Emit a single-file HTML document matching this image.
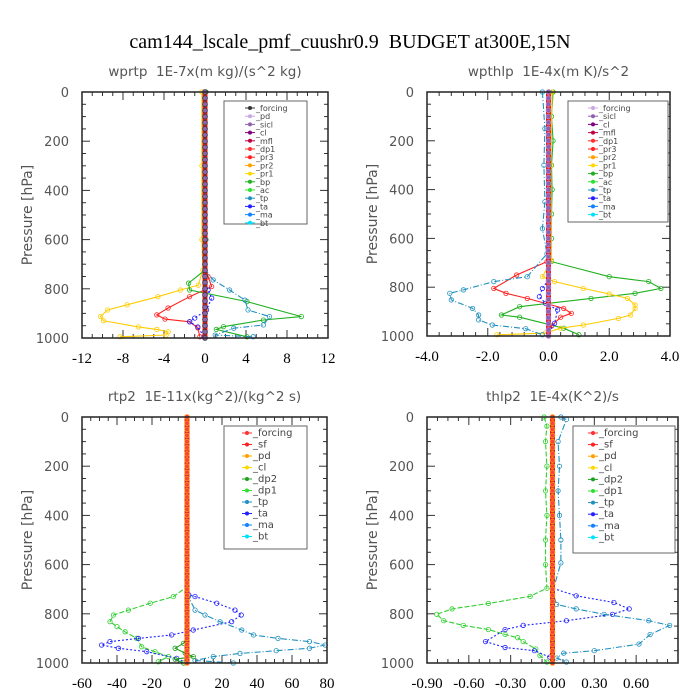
<!DOCTYPE html>
<html><head><meta charset="utf-8"><style>
body{margin:0;background:#fff}
svg{display:block}
text{white-space:pre}
</style></head><body>
<svg id="c" width="700" height="700" xmlns="http://www.w3.org/2000/svg">
<rect width="700" height="700" fill="#fff"/>
<text x="350" y="48" text-anchor="middle" font-family="Liberation Serif, serif" font-size="20">cam144_lscale_pmf_cuushr0.9  BUDGET at300E,15N</text>
</svg>
<script>
// ---- data arrays ----
const levels = [0,25,50,75,100,125,150,175,200,225,250,275,300,325,350,375,400,425,450,475,500,525,550,575,600,625,650,675,700,725,750,775,800,825,850,875,900,925,950,975,1000];
const p1Ticks = [-12,-8,-4,0,4,8,12];
const p1TickLabels = ["-12","-8","-4","0","4","8","12"];
const p2Ticks = [-4,-2,0,2,4];
const p2TickLabels = ["-4.0","-2.0","0.0","2.0","4.0"];
const p3Ticks = [-60,-40,-20,0,20,40,60,80];
const p3TickLabels = ["-60","-40","-20","0","20","40","60","80"];
const p4Ticks = [-0.9,-0.6,-0.3,0,0.3,0.6];
const p4TickLabels = ["-0.90","-0.60","-0.30","0.00","0.30","0.60"];
const pTicks = [0,200,400,600,800,1000];

// panel 1 (wprtp)
const p1_pr1_p=[0,300,600,724,785,805,832,865,886,913,930,955,965,975,988,995];
const p1_pr1_v=[-0.3,-0.3,-0.3,-0.2,-0.65,-2.4,-4.6,-7.6,-9.5,-10.2,-9.9,-6.5,-4.7,-3.6,-3.8,-8.3];
const p1_pr3_p=[0,700,751,791,832,878,906,923,934,959,995];
const p1_pr3_v=[0,0,0.3,0.65,-1.5,-3.6,-4.7,-3.9,-1.5,-0.7,-0.5];
const p1_bp_p=[0,600,724,777,805,852,913,927,954,965,995];
const p1_bp_v=[0.1,0.1,0,-1.6,-1.5,4.1,9.4,5.7,1.8,1.1,4.1];
const p1_tp_p=[0,720,764,805,846,886,913,947,960,988,995];
const p1_tp_v=[0,0,0.8,2.4,3.9,4.2,6.3,5.7,2.8,1.0,4.7];
const p1_ta_p=[0,780,805,838,886,919,934,955,995];
const p1_ta_v=[0,0,0.3,0.65,0.15,-1.0,-1.5,-0.7,-0.1];

// panel 2 (wpthlp)
const p2_bp_p=[0,100,200,300,400,500,600,695,757,777,805,825,846,880,914,923,968,995];
const p2_bp_v=[0.15,0.1,0.15,0.1,0.12,0.1,0.1,0.1,2.0,3.3,3.7,2.85,1.4,-0.95,-1.55,-0.95,0.5,1.0];
const p2_pr1_p=[0,300,690,757,777,805,828,846,873,887,914,928,955,968,988,995];
const p2_pr1_v=[0.12,0.08,0.1,-0.2,0.2,1.15,2.0,2.6,2.85,2.85,2.7,2.3,1.15,0.4,-0.1,-1.7];
const p2_dp1_p=[0,650,695,750,805,825,846,887,907,923,959,995];
const p2_dp1_v=[0,0,-0.05,-1.05,-1.8,-1.4,-0.7,0.5,0.75,0.4,0.1,0];
const p2_tp_p=[0,150,300,450,560,663,757,777,811,825,852,887,914,934,955,970,995];
const p2_tp_v=[-0.2,-0.12,-0.15,-0.12,-0.2,-0.05,-0.7,-1.8,-2.8,-3.25,-3.2,-2.5,-2.3,-2.3,-1.85,-0.75,-0.2];
const p2_ta_p=[0,770,805,839,866,893,948,988];
const p2_ta_v=[0,0,-0.2,-0.3,-0.1,0.3,0.2,0];

// panel 3 (rtp2)
const p3_dp1_p=[0,650,690,730,757,785,805,832,852,873,900,934,954,974,995];
const p3_dp1_v=[0,0,0,-7.8,-21,-33.5,-42,-44,-40,-35.4,-28.7,-25.9,-18.3,-10.7,-16.4];
const p3_ta_p=[0,700,723,730,757,785,805,832,866,886,900,913,927,940,954,981,1000];
const p3_ta_v=[0,0,1,4.6,17,27.4,31,25.5,3.6,-8.8,-27.8,-44,-48.8,-39.2,-23,-5.9,0];
const p3_tp_p=[0,700,730,785,805,832,866,886,900,913,927,940,950,961,974,990,1000];
const p3_tp_v=[0,0,0.8,4.6,10.3,18.9,31.3,38,52,70,79,70,51,30.3,15,4.6,26.5];
const p3_dp2_p=[900,920,940,960,974,985,1000];
const p3_dp2_v=[0,-2,-6.8,-1,3.6,-6.8,-2];

// panel 4 (thlp2)
const p4_dp1_p=[0,37,100,200,300,400,500,600,696,729,758,780,802,828,847,864,884,897,913,943,970,996];
const p4_dp1_v=[-0.06,-0.04,-0.05,-0.04,-0.05,-0.04,-0.05,-0.05,-0.04,-0.16,-0.46,-0.72,-0.83,-0.78,-0.64,-0.46,-0.34,-0.25,-0.21,-0.12,-0.09,-0.04];
const p4_ta_p=[0,600,696,727,754,780,802,828,847,864,913,937,950,976];
const p4_ta_v=[0,0,0,0.17,0.44,0.55,0.43,0.1,-0.21,-0.34,-0.48,-0.34,-0.13,-0.02];
const p4_tp_p=[0,10,100,200,300,400,500,593,712,762,780,802,828,847,884,923,950,960,980,996];
const p4_tp_v=[0.06,0.1,0.04,0.05,0.04,0.05,0.06,0.06,0,0.03,0.17,0.37,0.69,0.84,0.7,0.62,0.3,0.08,0.03,0.1];

const leg1=["_forcing","_pd","_sicl","_cl","_mfl","_dp1","_pr3","_pr2","_pr1","_bp","_ac","_tp","_ta","_ma","_bt"];
const leg1c=["#333","#c8a8e0","#9060b0","#800080","#c00040","#ff3030","#ff2020","#ffa000","#ffd700","#20b020","#30e030","#2090c0","#2020ff","#1080ff","#00e0ff"];
const leg2=["_forcing","_sicl","_cl","_mfl","_dp1","_pr3","_pr2","_pr1","_bp","_ac","_tp","_ta","_ma","_bt"];
const leg2c=["#c8a8e0","#9060b0","#800080","#c00040","#ff3030","#ff2020","#ffa000","#ffd700","#20b020","#30e030","#2090c0","#2020ff","#1080ff","#00e0ff"];
const leg3=["_forcing","_sf","_pd","_cl","_dp2","_dp1","_tp","_ta","_ma","_bt"];
const leg3c=["#ff3030","#ff2020","#ffa000","#ffd700","#20a020","#30e030","#2090c0","#2020ff","#1080ff","#00e0ff"];

const svg=document.getElementById('c');
const NS='http://www.w3.org/2000/svg';
function mk(tag,attrs,parent){const e=document.createElementNS(NS,tag);for(const k in attrs)e.setAttribute(k,attrs[k]);(parent||svg).appendChild(e);return e;}

function panel(o){
  const g=mk('g',{});
  
  
  const X=v=>o.x0+(v-o.xmin)/(o.xmax-o.xmin)*(o.x1-o.x0);
  const Y=p=>o.y0+p/1000*(o.y1-o.y0);
  const t=mk('text',{x:(o.x0+o.x1)/2,y:o.y0-16,'text-anchor':'middle','font-family':'DejaVu Sans, sans-serif','font-size':13.5,fill:'#555'},g);
  t.textContent=o.title;
  
  
  const yl=mk('text',{x:0,y:0,transform:`translate(${o.x0-50},${(o.y0+o.y1)/2}) rotate(-90)`,'text-anchor':'middle','font-family':'DejaVu Sans, sans-serif','font-size':14,fill:'#555'},g);
  yl.textContent='Pressure [hPa]';
  
  
  for(let p=0;p<=1000;p+=50){const L=(p%200===0)?8:4;
    mk('line',{x1:o.x0,x2:o.x0+L,y1:Y(p),y2:Y(p),stroke:'#333'},g);
    mk('line',{x1:o.x1,x2:o.x1-L,y1:Y(p),y2:Y(p),stroke:'#333'},g);}
  pTicks.forEach(p=>{const e=mk('text',{x:o.x0-13,y:Y(p)+5,'text-anchor':'end','font-family':'DejaVu Sans, sans-serif','font-size':13,fill:'#555'},g);e.textContent=p;
    
    });
  const step=o.minor;
  for(let v=o.xmin;v<=o.xmax+1e-9;v+=step){
    const major=o.ticks.some(t=>Math.abs(t-v)<1e-6);const L=major?8:4;
    mk('line',{x1:X(v),x2:X(v),y1:o.y1,y2:o.y1-L,stroke:'#333'},g);
    mk('line',{x1:X(v),x2:X(v),y1:o.y0,y2:o.y0+L,stroke:'#333'},g);}
  o.ticks.forEach((v,i)=>{const e=mk('text',{x:X(v),y:o.y1+25,'text-anchor':'middle','font-family':'Liberation Serif, serif','font-size':15},g);e.textContent=o.tickLabels[i];
    
    });
  o.series.forEach(s=>{
    const pts=s.p.map((p,i)=>X(s.v[i]).toFixed(1)+','+Y(p).toFixed(1)).join(' ');
    const pl=mk('polyline',{points:pts,fill:'none',stroke:s.c,'stroke-width':1.1,'stroke-dasharray':s.d||'none'},g);
    
    
    s.p.forEach((p,i)=>{mk('circle',{cx:X(s.v[i]),cy:Y(p),r:2.2,fill:'none',stroke:s.c,'stroke-width':0.8},g);});
  });
  const z=mk('line',{x1:X(0),x2:X(0),y1:o.y0,y2:o.y1,stroke:'#e02020','stroke-width':5},g);
  
  
  levels.forEach(p=>{mk('circle',{cx:X(0),cy:Y(p),r:2.4,fill:o.zc,stroke:o.zs,'stroke-width':0.8},g);});
  mk('rect',{x:o.x0,y:o.y0,width:o.x1-o.x0,height:o.y1-o.y0,fill:'none',stroke:'#222','stroke-width':1.5},g);
  const lg=mk('g',{},g);
  
  
  mk('rect',{x:o.lx0,y:o.ly0,width:o.lx1-o.lx0,height:o.ly1-o.ly0,fill:'#fff',stroke:'#666'},lg);
  o.leg.forEach((n,i)=>{const y=o.ly0+7+i*o.lstep;
    mk('line',{x1:o.mx-5,x2:o.mx+5,y1:y,y2:y,stroke:o.legc[i]},lg);
    mk('circle',{cx:o.mx,cy:y,r:2,fill:o.legc[i]},lg);
    const e=mk('text',{x:o.mx+6,y:y+3,'font-family':'DejaVu Sans, sans-serif','font-size':o.lfs,fill:'#444'},lg);e.textContent=n;
    
    });
}

panel({name:'panel-wprtp',title:'wprtp  1E-7x(m kg)/(s^2 kg)',x0:82,x1:328,y0:92,y1:338,xmin:-12,xmax:12,minor:1,ticks:p1Ticks,tickLabels:p1TickLabels,zc:'#9060b0',zs:'#333',
  series:[{n:'pr1',p:p1_pr1_p,v:p1_pr1_v,c:'#ffcc00'},{n:'pr3',p:p1_pr3_p,v:p1_pr3_v,c:'#ff2020'},{n:'bp',p:p1_bp_p,v:p1_bp_v,c:'#20b020'},{n:'tp',p:p1_tp_p,v:p1_tp_v,c:'#2090c0',d:'6,2,1,2'},{n:'ta',p:p1_ta_p,v:p1_ta_v,c:'#2020ff',d:'2,2'}],
  leg:leg1,legc:leg1c,lx0:224,lx1:307,ly0:101,ly1:224,lstep:8.2,mx:250,lfs:8});
panel({name:'panel-wpthlp',title:'wpthlp  1E-4x(m K)/s^2',x0:427,x1:670,y0:92,y1:336,xmin:-4,xmax:4,minor:0.4,ticks:p2Ticks,tickLabels:p2TickLabels,zc:'#9060b0',zs:'#c080d0',
  series:[{n:'bp',p:p2_bp_p,v:p2_bp_v,c:'#20b020'},{n:'pr1',p:p2_pr1_p,v:p2_pr1_v,c:'#ffcc00'},{n:'dp1',p:p2_dp1_p,v:p2_dp1_v,c:'#ff2020'},{n:'tp',p:p2_tp_p,v:p2_tp_v,c:'#2090c0',d:'6,2,1,2'},{n:'ta',p:p2_ta_p,v:p2_ta_v,c:'#2020ff',d:'2,2'}],
  leg:leg2,legc:leg2c,lx0:568,lx1:668,ly0:101,ly1:222,lstep:8.2,mx:593,lfs:8});
panel({name:'panel-rtp2',title:'rtp2  1E-11x(kg^2)/(kg^2 s)',x0:82,x1:327,y0:417,y1:663,xmin:-60,xmax:80,minor:5,ticks:p3Ticks,tickLabels:p3TickLabels,zc:'#ff4040',zs:'#ffa000',
  series:[{n:'dp1',p:p3_dp1_p,v:p3_dp1_v,c:'#30d030',d:'5,2'},{n:'ta',p:p3_ta_p,v:p3_ta_v,c:'#2020ff',d:'2,2'},{n:'tp',p:p3_tp_p,v:p3_tp_v,c:'#2090c0',d:'6,2,1,2'},{n:'dp2',p:p3_dp2_p,v:p3_dp2_v,c:'#20a020'}],
  leg:leg3,legc:leg3c,lx0:224,lx1:307,ly0:426,ly1:549,lstep:11.5,mx:247,lfs:10});
panel({name:'panel-thlp2',title:'thlp2  1E-4x(K^2)/s',x0:427,x1:678,y0:417,y1:663,xmin:-0.9,xmax:0.9,minor:0.075,ticks:p4Ticks,tickLabels:p4TickLabels,zc:'#ff4040',zs:'#ffa000',
  series:[{n:'dp1',p:p4_dp1_p,v:p4_dp1_v,c:'#30d030',d:'5,2'},{n:'ta',p:p4_ta_p,v:p4_ta_v,c:'#2020ff',d:'2,2'},{n:'tp',p:p4_tp_p,v:p4_tp_v,c:'#2090c0',d:'6,2,1,2'}],
  leg:leg3,legc:leg3c,lx0:573,lx1:675,ly0:426,ly1:553,lstep:11.6,mx:593,lfs:10});
</script>
</body></html>
